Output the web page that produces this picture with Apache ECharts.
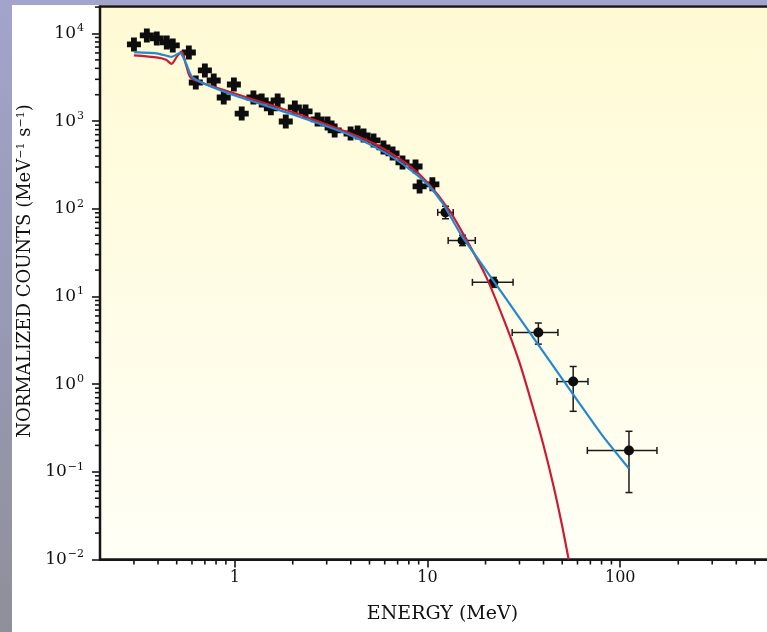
<!DOCTYPE html>
<html>
<head>
<meta charset="utf-8">
<script src="https://cdn.jsdelivr.net/npm/echarts@6/dist/echarts.min.js"></script>
<style>
  html, body { margin: 0; padding: 0; }
  body {
    width: 767px; height: 632px; overflow: hidden; position: relative;
    background: linear-gradient(to bottom, #a2a4cc, #8f8f9a);
  }
  #chart { position: absolute; left: 12px; top: 5px; width: 755px; height: 627px; background: #fff; }
</style>
</head>
<body>
<div id="chart"></div>
<script>
// measured spectrum, low-energy points (small error bars, drawn as crosses)
const lowEnergy = [0.30, 0.35, 0.394, 0.444, 0.477, 0.578, 0.628, 0.70, 0.778, 0.877, 0.99, 1.087,
  1.25, 1.38, 1.54, 1.67, 1.84, 2.05, 2.33, 2.69, 3.03, 3.30, 3.99, 4.34, 4.66, 5.25, 5.91,
  6.59, 7.42, 8.67, 9.10, 10.6]
const lowCounts = [7500, 9500, 8770, 7900, 7300, 6070, 2760, 3790, 2910, 1860, 2620, 1220,
  1860, 1720, 1400, 1720, 991, 1430, 1290, 1045, 940, 783, 723, 743, 687, 603, 501,
  428, 338, 304, 180, 190]

// high-energy points with error bars
const highEnergy = [12.4, 15.2, 22.0, 37.6, 57.0, 111]
const highCounts = [91, 43.5, 14.5, 3.89, 1.07, 0.175]
const highELo = [11.3, 12.8, 17.1, 27.5, 47.0, 67.5]
const highEHi = [13.6, 17.7, 27.8, 47.5, 68.0, 155]
const highCLo = [77, 38, 12.7, 2.86, 0.49, 0.058]
const highCHi = [107, 50, 16.5, 4.98, 1.59, 0.29]

// model with exponential cutoff (red)
const cutoffE = [0.30, 0.40, 0.44, 0.47, 0.50, 0.53, 0.56, 0.59, 0.67, 0.8, 1.0, 1.5, 2, 3, 4, 5, 6, 8,
  10, 13, 16, 20, 25, 30, 35, 40, 45, 50, 54]
const cutoffC = [5610, 5300, 5000, 4500, 5400, 6200, 4320, 3150, 2760, 2420, 2070, 1550, 1260, 916,
  723, 586, 475, 312, 200, 95.6, 43.5, 17.4, 5.3, 1.77, 0.57, 0.20, 0.070, 0.024, 0.01]

// power-law model (blue)
const powerE = [0.30, 0.40, 0.47, 0.52, 0.56, 0.60, 0.7, 1.0, 2, 4, 6, 8, 10, 12, 15, 20, 30, 50, 80, 111]
const powerC = [6120, 5900, 5400, 6000, 4500, 3200, 2650, 1960, 1190, 687, 440, 288, 190, 115, 49.7,
  20.3, 5.69, 1.15, 0.268, 0.109]

// axis ranges
const X_MIN = 0.2, X_MAX = 1000
const Y_MIN = 0.01, Y_MAX = 20300

// minor tick positions (2..9 in each decade)
const xMinor = []
for (const d of [0.1, 1, 10, 100]) for (let m = 2; m <= 9; m++) {
  const v = m * d
  if (v > X_MIN * 1.0001 && v < X_MAX) xMinor.push(+v.toPrecision(3))
}
const yMinor = []
for (const d of [0.01, 0.1, 1, 10, 100, 1000, 10000]) for (let m = 2; m <= 9; m++) {
  const v = m * d
  if (v < Y_MAX) yMinor.push(+v.toPrecision(3))
}

const serif = 'DejaVu Serif'
const ink = '#111'
const isPow10 = v => Math.abs(Math.log10(v) - Math.round(Math.log10(v))) < 1e-6

const chart = echarts.init(document.getElementById('chart'))

const option = {
  animation: false,
  grid: {
    // the frame runs past the right edge of the picture (axis goes to 1000 MeV)
    left: 88, top: 1.5, width: 713, height: 553,
    outerBoundsMode: 'none',
    show: true,
    borderColor: '#151515',
    borderWidth: 2.5,
    backgroundColor: new echarts.graphic.LinearGradient(0, 0, 0, 1, [
      { offset: 0, color: '#fffad4' },
      { offset: 1, color: '#fffff6' }
    ])
  },
  xAxis: {
    type: 'log',
    logBase: 10,
    min: X_MIN,
    max: X_MAX,
    name: 'ENERGY (MeV)',
    nameLocation: 'middle',
    nameGap: 45,
    nameTextStyle: { fontFamily: serif, fontSize: 19, color: ink, padding: [0, 28, 0, 0] },
    axisLine: { lineStyle: { color: '#151515', width: 2 } },
    axisTick: { length: 8, lineStyle: { color: '#151515', width: 1.6 } },
    axisLabel: {
      showMinLabel: false,
      margin: 10,
      fontFamily: serif,
      fontSize: 16,
      color: ink,
      formatter: v => isPow10(v) ? String(Math.round(v)) : ''
    },
    splitLine: { show: false }
  },
  yAxis: {
    type: 'log',
    logBase: 10,
    min: Y_MIN,
    max: Y_MAX,
    name: 'NORMALIZED COUNTS (MeV{sup|−1} s{sup|−1})',
    nameLocation: 'middle',
    nameRotate: 90,
    nameGap: 63,
    nameTextStyle: {
      fontFamily: serif, fontSize: 18, color: ink, padding: [0, 0, 0, 24],
      rich: { sup: { fontFamily: serif, fontSize: 11, color: ink, padding: [0, 0, 8, 0] } }
    },
    axisLine: { lineStyle: { color: '#151515', width: 2 } },
    axisTick: { length: 8, lineStyle: { color: '#151515', width: 1.6 } },
    axisLabel: {
      showMaxLabel: false,
      margin: 16,
      fontFamily: serif,
      fontSize: 17,
      color: ink,
      formatter: v => {
        if (!isPow10(v)) return ''
        const e = Math.round(Math.log10(v))
        return '10{sup|' + (e < 0 ? '−' + (-e) : e) + '}'
      },
      rich: { sup: { fontFamily: serif, fontSize: 11, color: ink, padding: [0, 0, 10, 1] } }
    },
    splitLine: { show: false }
  },
  series: [
    {
      // minor ticks on the energy axis
      type: 'custom',
      silent: true,
      clip: false,
      data: xMinor.map(v => [v, Y_MIN]),
      renderItem: (params, api) => {
        const p = api.coord([api.value(0), api.value(1)])
        return {
          type: 'line',
          shape: { x1: p[0], y1: p[1], x2: p[0], y2: p[1] + 5 },
          style: { stroke: '#151515', lineWidth: 1.6 }
        }
      }
    },
    {
      // minor ticks on the counts axis
      type: 'custom',
      silent: true,
      clip: false,
      data: yMinor.map(v => [X_MIN, v]),
      renderItem: (params, api) => {
        const p = api.coord([api.value(0), api.value(1)])
        return {
          type: 'line',
          shape: { x1: p[0], y1: p[1], x2: p[0] - 5, y2: p[1] },
          style: { stroke: '#151515', lineWidth: 1.6 }
        }
      }
    },
    {
      type: 'scatter',
      name: 'data',
      data: lowEnergy.map((e, i) => [e, lowCounts[i]]),
      symbol: 'path://M3.5,0h5v3.5h3.5v5h-3.5v3.5h-5v-3.5h-3.5v-5h3.5z',
      symbolSize: 14,
      itemStyle: { color: '#0d0d0d', opacity: 1 },
      z: 3
    },
    {
      // error bars of the high-energy points
      type: 'custom',
      clip: false,
      encode: { x: 0, y: 1 },
      data: highEnergy.map((e, i) => [e, highCounts[i], highELo[i], highEHi[i], highCLo[i], highCHi[i]]),
      renderItem: (params, api) => {
        const e = api.value(0), c = api.value(1)
        const l = api.coord([api.value(2), c])
        const r = api.coord([api.value(3), c])
        const b = api.coord([e, api.value(4)])
        const t = api.coord([e, api.value(5)])
        const st = { stroke: '#1a1a1a', lineWidth: 1.5 }
        const cap = 3.5
        return {
          type: 'group',
          children: [
            { type: 'line', shape: { x1: l[0], y1: l[1], x2: r[0], y2: r[1] }, style: st },
            { type: 'line', shape: { x1: l[0], y1: l[1] - cap, x2: l[0], y2: l[1] + cap }, style: st },
            { type: 'line', shape: { x1: r[0], y1: r[1] - cap, x2: r[0], y2: r[1] + cap }, style: st },
            { type: 'line', shape: { x1: b[0], y1: b[1], x2: t[0], y2: t[1] }, style: st },
            { type: 'line', shape: { x1: b[0] - cap, y1: b[1], x2: b[0] + cap, y2: b[1] }, style: st },
            { type: 'line', shape: { x1: t[0] - cap, y1: t[1], x2: t[0] + cap, y2: t[1] }, style: st }
          ]
        }
      },
      z: 3
    },
    {
      type: 'scatter',
      data: highEnergy.map((e, i) => [e, highCounts[i]]),
      symbol: 'circle',
      symbolSize: 10,
      itemStyle: { color: '#0d0d0d', opacity: 1 },
      z: 4
    },
    {
      type: 'line',
      name: 'cutoff',
      data: cutoffE.map((e, i) => [e, cutoffC[i]]),
      showSymbol: false,
      smooth: 0.3,
      lineStyle: { color: '#cc1a36', width: 2.2 },
      z: 5
    },
    {
      type: 'line',
      name: 'power law',
      data: powerE.map((e, i) => [e, powerC[i]]),
      showSymbol: false,
      smooth: 0.2,
      lineStyle: { color: '#2389cf', width: 2.2 },
      z: 5
    }
  ]
}

chart.setOption(option)
</script>
</body>
</html>
